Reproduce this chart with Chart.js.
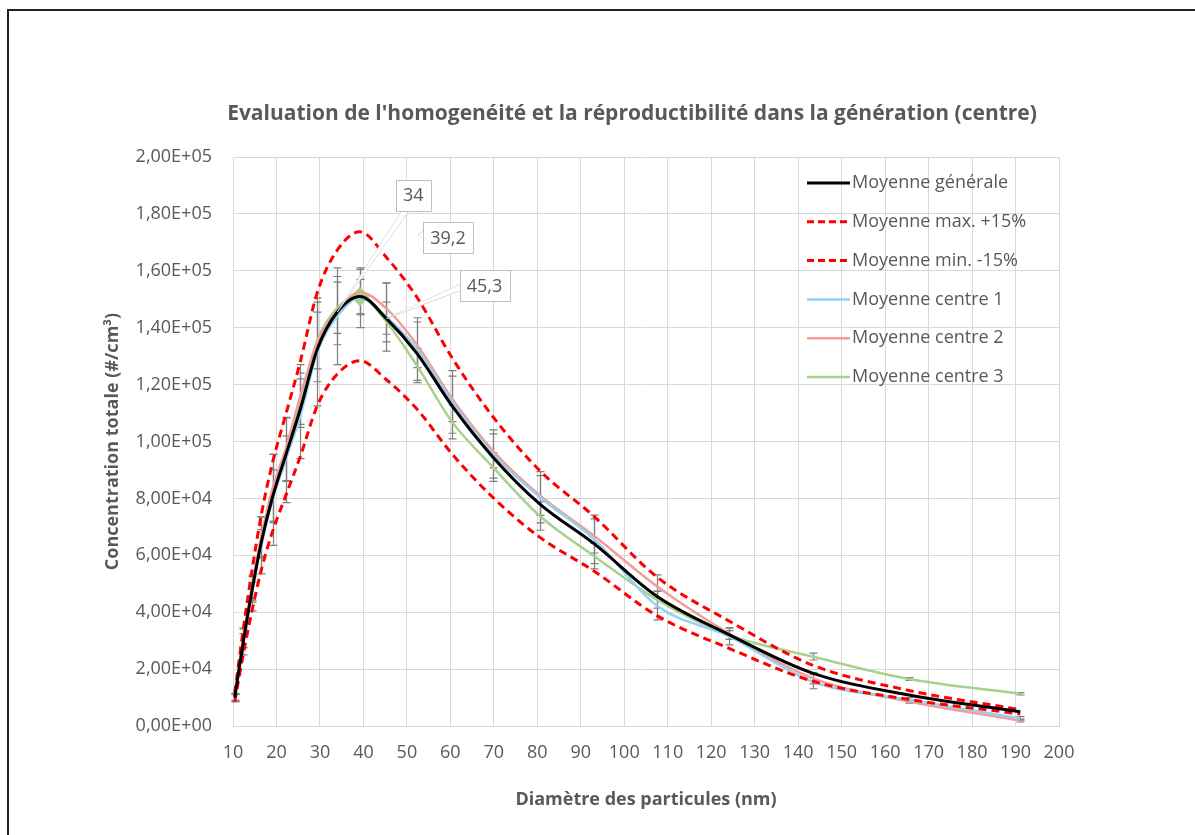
<!DOCTYPE html>
<html>
<head>
<meta charset="utf-8">
<script src="https://cdn.jsdelivr.net/npm/chart.js@4.4.1/dist/chart.umd.min.js"></script>
<style>
  html, body { margin: 0; padding: 0; background: #fff; }
  #wrap { position: relative; width: 1195px; height: 835px; overflow: hidden; }
  #frame { position: absolute; left: 7px; top: 9px; width: 1300px; height: 1000px;
           border-left: 2px solid #231f20; border-top: 2px solid #231f20; }
  canvas { position: absolute; left: 0; top: 0; }
</style>
</head>
<body>
<div id="wrap">
  <div id="frame"></div>
  <canvas id="chart" width="1195" height="835"></canvas>
</div>
<script>
// diameters (nm) of the size channels
const diameters = [10.4, 12.4, 14.3, 16.5, 19.1, 22.1, 25.5, 29.4, 34, 39.2, 45.3, 52.3, 60.4, 69.8, 80.6, 93.1, 107.5, 124.1, 143.3, 165.5, 191.1];

// series (#/cm3)
const moyenneGenerale = [10000, 30000, 47000, 64500, 80500, 95000, 111500, 132500, 145500, 151000, 143200, 131000, 112500, 94500, 78000, 64000, 45600, 32100, 18600, 10900, 5000];
const moyenneMax = [11500, 34500, 54000, 74200, 92600, 109300, 128200, 152400, 167300, 173700, 164700, 150700, 129400, 108700, 89700, 73600, 52400, 36900, 21400, 12500, 5750];
const moyenneMin = [8500, 25500, 40000, 54800, 68400, 80800, 94800, 112600, 123700, 128400, 121700, 111400, 95600, 80300, 66300, 54400, 38800, 27300, 15800, 9300, 4250];
const centre1 = [10000, 29500, 46500, 63500, 79500, 93500, 109000, 131500, 144000, 150500, 143800, 132500, 113900, 95600, 80400, 65600, 42300, 31500, 15600, 9200, 2700];
const centre2 = [10000, 31000, 48500, 66500, 83500, 97300, 116000, 135000, 146000, 152500, 146700, 134000, 115000, 96700, 81000, 66800, 49100, 32500, 16800, 8600, 1900];
const centre3 = [10000, 30000, 47000, 64000, 81000, 94000, 114000, 135500, 147000, 151000, 142000, 126700, 106900, 91000, 73800, 59700, 44400, 32000, 24400, 16500, 11300];

// error bars (+/-) for each centre
const errCentre1 = [1500, 4500, 6000, 10000, 16000, 15000, 15000, 19000, 17000, 10500, 12000, 11000, 11000, 8500, 9000, 8500, 5000, 3000, 2500, 800, 600];
const errCentre2 = [1200, 3500, 4500, 7000, 12000, 11000, 11000, 14000, 12000, 8000, 9000, 8000, 8000, 6000, 7000, 6000, 4000, 2000, 2000, 600, 500];
const errCentre3 = [1000, 2500, 3500, 5000, 9000, 8000, 8000, 10000, 9000, 6000, 7000, 6000, 6000, 5000, 5000, 4500, 3000, 1500, 1200, 500, 400];

// axes
const xTickValues = [10, 20, 30, 40, 50, 60, 70, 80, 90, 100, 110, 120, 130, 140, 150, 160, 170, 180, 190, 200];
const yTickValues = [0, 20000, 40000, 60000, 80000, 100000, 120000, 140000, 160000, 180000, 200000];
const yTickLabels = ["0,00E+00", "2,00E+04", "4,00E+04", "6,00E+04", "8,00E+04", "1,00E+05", "1,20E+05", "1,40E+05", "1,60E+05", "1,80E+05", "2,00E+05"];

// callouts on the mean curve
const calloutDiameters = [34, 39.2, 45.3];
const calloutTexts = ["34", "39,2", "45,3"];

const FONT = "'Open Sans', 'DejaVu Sans', sans-serif";
const GREY_TEXT = "#595959";

const toPoints = (arr) => arr.map((v, i) => ({ x: diameters[i], y: v }));

const makeLine = (label, values, color, width, dash) => ({
    label: label,
    data: toPoints(values),
    borderColor: color,
    backgroundColor: color,
    borderWidth: width,
    borderDash: dash || [],
    pointRadius: 0,
    cubicInterpolationMode: "monotone",
    fill: false,
});

const datasets = [
    makeLine("Moyenne générale", moyenneGenerale, "#000000", 3),
    makeLine("Moyenne max. +15%", moyenneMax, "#ff0000", 3, [8, 5]),
    makeLine("Moyenne min. -15%", moyenneMin, "#ff0000", 3, [8, 5]),
    makeLine("Moyenne centre 1", centre1, "#94d2f2", 2.5),
    makeLine("Moyenne centre 2", centre2, "#f29d99", 2.5),
    makeLine("Moyenne centre 3", centre3, "#a9d18e", 2.5),
];
datasets[3].errors = errCentre1;
datasets[4].errors = errCentre2;
datasets[5].errors = errCentre3;
// diamond marker at the peak of centre 3
datasets[5].pointStyle = "rectRot";
datasets[5].pointRadius = (ctx) => (ctx.dataIndex === 9 ? 8 : 0);

// error bars under the lines
const errorBarPlugin = {
    id: "errorBars",
    beforeDatasetsDraw(chart) {
        const { ctx, scales: { x, y } } = chart;
        ctx.save();
        ctx.strokeStyle = "#7f7f7f";
        ctx.lineWidth = 1.2;
        chart.data.datasets.forEach((ds) => {
            if (!ds.errors) return;
            ds.data.forEach((p, i) => {
                const px = Math.round(x.getPixelForValue(p.x)) + 0.5;
                const top = y.getPixelForValue(p.y + ds.errors[i]);
                const bot = y.getPixelForValue(p.y - ds.errors[i]);
                ctx.beginPath();
                ctx.moveTo(px, top); ctx.lineTo(px, bot);
                ctx.moveTo(px - 4, top); ctx.lineTo(px + 4, top);
                ctx.moveTo(px - 4, bot); ctx.lineTo(px + 4, bot);
                ctx.stroke();
            });
        });
        ctx.restore();
    },
};

// callout boxes with their leaders
const calloutPlugin = {
    id: "callouts",
    afterDatasetsDraw(chart) {
        const { ctx, scales: { x, y } } = chart;
        const offsets = [{ dx: 76, dy: -117 }, { dx: 88, dy: -59 }, { dx: 98, dy: -33 }];
        ctx.save();
        ctx.font = "18px " + FONT;
        calloutDiameters.forEach((d, k) => {
            const i = diameters.indexOf(d);
            const px = x.getPixelForValue(d);
            const py = y.getPixelForValue(moyenneGenerale[i]);
            const w = ctx.measureText(calloutTexts[k]).width + 14;
            const h = 31;
            const cx = px + offsets[k].dx, cy = py + offsets[k].dy;
            const l = cx - w / 2, t = cy - h / 2;
            ctx.strokeStyle = "#bfbfbf";
            ctx.lineWidth = 1;
            ctx.fillStyle = "#ffffff";
            ctx.beginPath();
            if (k === 0) {
                ctx.moveTo(l + 6, t + h); ctx.lineTo(px, py); ctx.lineTo(l + 13, t + h);
            } else if (k === 2) {
                ctx.moveTo(l, cy - 1); ctx.lineTo(px, py); ctx.lineTo(l, cy + 5);
            } else {
                ctx.moveTo(l, cy - 6); ctx.lineTo(l - 5, cy - 3); ctx.lineTo(l, cy + 2);
            }
            ctx.stroke();
            ctx.fill();
            ctx.fillRect(l, t, w, h);
            ctx.strokeRect(Math.round(l) + 0.5, Math.round(t) + 0.5, Math.round(w), h);
            ctx.fillStyle = GREY_TEXT;
            ctx.textAlign = "center";
            ctx.textBaseline = "middle";
            ctx.fillText(calloutTexts[k], cx, cy + 1);
        });
        ctx.restore();
    },
};

// legend drawn inside the plot, top right
const legendPlugin = {
    id: "innerLegend",
    afterDraw(chart) {
        const { ctx } = chart;
        ctx.save();
        ctx.font = "18px " + FONT;
        ctx.textBaseline = "middle";
        ctx.textAlign = "left";
        chart.data.datasets.forEach((ds, i) => {
            const yy = 183 + i * 38.8;
            ctx.strokeStyle = ds.borderColor;
            ctx.lineWidth = ds.borderWidth;
            ctx.setLineDash(ds.borderDash.length ? [7, 4] : []);
            ctx.beginPath();
            ctx.moveTo(807, yy); ctx.lineTo(850, yy);
            ctx.stroke();
            ctx.fillStyle = GREY_TEXT;
            ctx.fillText(ds.label, 852, yy);
        });
        ctx.restore();
    },
};

const titlePlugin = {
    id: "bigTitle",
    afterDraw(chart) {
        const { ctx } = chart;
        ctx.save();
        ctx.font = "bold 21px " + FONT;
        ctx.fillStyle = GREY_TEXT;
        ctx.textAlign = "center";
        ctx.textBaseline = "middle";
        ctx.fillText("Evaluation de l'homogenéité et la réproductibilité dans la génération (centre)", 632, 114);
        ctx.restore();
    },
};

new Chart(document.getElementById("chart"), {
    type: "line",
    data: { datasets: datasets },
    options: {
        responsive: false,
        animation: false,
        devicePixelRatio: 1,
        layout: { padding: { left: 90, right: 136, top: 157, bottom: 0 } },
        plugins: { legend: { display: false }, title: { display: false }, tooltip: { enabled: false } },
        scales: {
            x: {
                type: "linear",
                min: 10,
                max: 200,
                afterFit: (s) => { s.height = 109; },
                afterBuildTicks: (s) => { s.ticks = xTickValues.map((v) => ({ value: v })); },
                grid: { color: "#d9d9d9", drawTicks: false },
                border: { color: "#d9d9d9" },
                ticks: { color: GREY_TEXT, font: { family: FONT, size: 18 }, padding: 16, maxRotation: 0, autoSkip: false },
                title: { display: true, text: "Diamètre des particules (nm)", color: GREY_TEXT,
                         font: { family: FONT, size: 18, weight: "bold" }, padding: { top: 0, bottom: 24 } },
            },
            y: {
                min: 0,
                max: 200000,
                afterFit: (s) => { s.width = 143; },
                afterBuildTicks: (s) => { s.ticks = yTickValues.map((v) => ({ value: v })); },
                grid: { color: "#d9d9d9", drawTicks: false },
                border: { color: "#d9d9d9" },
                ticks: { color: GREY_TEXT, font: { family: FONT, size: 18 }, padding: 21,
                         callback: (v, i) => yTickLabels[i] },
                title: { display: true, text: "Concentration totale (#/cm³)", color: GREY_TEXT,
                         font: { family: FONT, size: 18, weight: "bold" }, padding: { top: 12, bottom: 0 } },
            },
        },
    },
    plugins: [errorBarPlugin, calloutPlugin, legendPlugin, titlePlugin],
});
</script>
</body>
</html>
